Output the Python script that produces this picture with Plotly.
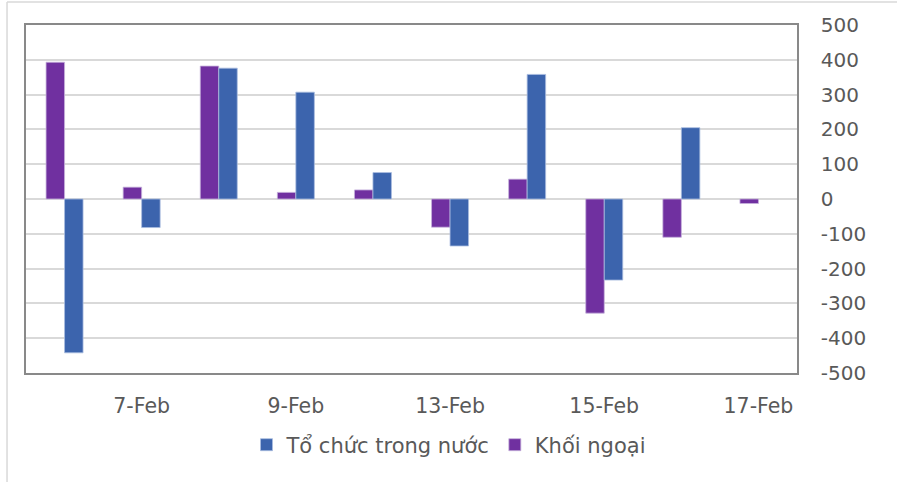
import plotly.graph_objects as go

dates = ["6-Feb", "7-Feb", "8-Feb", "9-Feb", "10-Feb", "13-Feb", "14-Feb", "15-Feb", "16-Feb", "17-Feb"]
khoi_ngoai = [393, 34, 382, 19, 26, -81, 57, -328, -110, -13]
to_chuc = [-442, -82, 376, 307, 76, -135, 358, -233, 205, None]
shown_ticks = ["7-Feb", "9-Feb", "13-Feb", "15-Feb", "17-Feb"]
y_ticks = [500, 400, 300, 200, 100, 0, -100, -200, -300, -400, -500]
y_tick_text = [str(v) for v in y_ticks]

FONT = "DejaVu Sans"
TXT = "#595959"

fig = go.Figure()
fig.add_trace(go.Bar(x=dates, y=khoi_ngoai, name="Khối ngoại",
                     marker=dict(color="#7030A0", line=dict(color="#c7b3dc", width=0.8))))
fig.add_trace(go.Bar(x=dates, y=to_chuc, name="Tổ chức trong nước",
                     marker=dict(color="#3C64AD", line=dict(color="#a9bde0", width=0.8))))

fig.update_layout(
    width=897, height=482,
    margin=dict(l=26, r=100, t=25, b=109),
    paper_bgcolor="white", plot_bgcolor="white",
    barmode="group", bargap=0.52, bargroupgap=0,
    font=dict(family=FONT, size=20, color=TXT),
    legend=dict(orientation="h", traceorder="reversed", x=0.548, xanchor="center",
                y=-0.207, yanchor="middle", font=dict(family=FONT, size=21, color=TXT),
                bgcolor="rgba(0,0,0,0)"),
    showlegend=True,
)
fig.update_xaxes(type="category", tickmode="array", tickvals=shown_ticks, ticktext=shown_ticks,
                 showgrid=False, showline=True, mirror=True, linecolor="#898989", linewidth=1.5,
                 ticks="", ticklabelstandoff=14, tickfont=dict(family=FONT, size=20.5, color=TXT))
fig.update_yaxes(side="right", range=[-500, 500], tickmode="array", tickvals=y_ticks,
                 ticktext=y_tick_text,
                 showgrid=True, gridcolor="#d9d9d9", gridwidth=1.5,
                 zeroline=True, zerolinecolor="#d9d9d9", zerolinewidth=1.5,
                 showline=True, mirror=True, linecolor="#898989", linewidth=1.5,
                 ticks="", ticklabelstandoff=18, tickfont=dict(family=FONT, size=20, color=TXT))

# outer chart border (left and top visible)
fig.add_shape(type="line", xref="paper", yref="paper", x0=-0.0246, x1=-0.0246, y0=-0.32, y1=1.066,
              line=dict(color="#d9d9d9", width=1.5))
fig.add_shape(type="line", xref="paper", yref="paper", x0=-0.0246, x1=1.13, y0=1.066, y1=1.066,
              line=dict(color="#d9d9d9", width=1.5))

fig.write_html("out.html", config={"displayModeBar": False},
               post_script="document.body.style.margin='0';")
